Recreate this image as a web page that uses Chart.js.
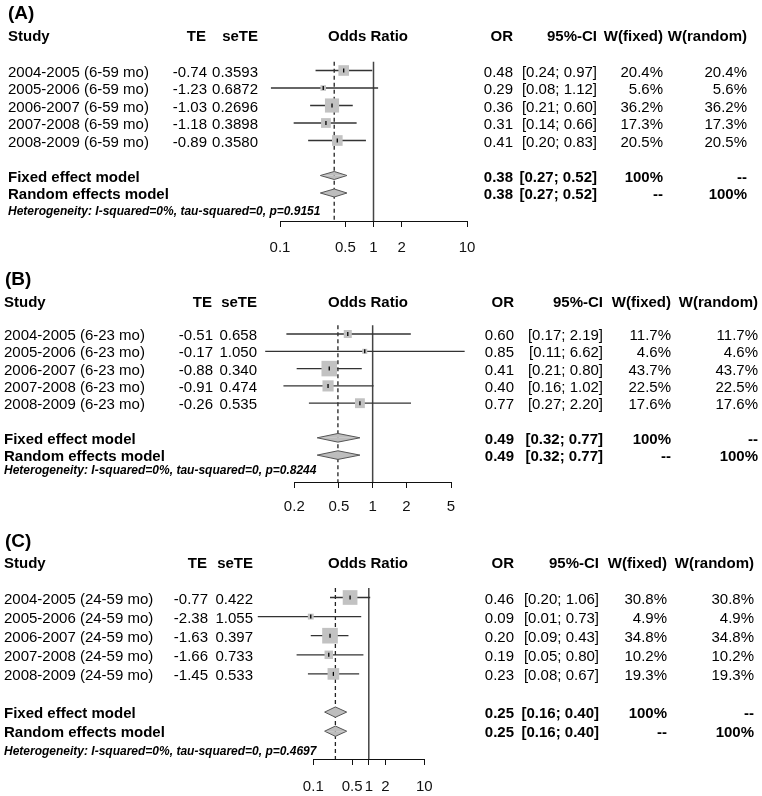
<!DOCTYPE html>
<html>
<head>
<meta charset="utf-8">
<script src="https://cdn.jsdelivr.net/npm/chart.js@4.4.0/dist/chart.umd.min.js"></script>
<style>
html,body{margin:0;padding:0;background:#fff;width:762px;height:796px;overflow:hidden;}
#page{position:relative;width:762px;height:796px;overflow:hidden;}
.t{position:absolute;white-space:nowrap;font-family:"Liberation Sans",Arial,Helvetica,sans-serif;font-size:15px;line-height:15px;color:#000;transform:translateY(-50%);}
.t.r{transform:translate(-100%,-50%);}
.t.c{transform:translate(-50%,-50%);}
.t.b{font-weight:bold;}
.t.het{font-size:12px;line-height:12px;font-weight:bold;font-style:italic;}
.t.lab{font-size:19px;line-height:19px;font-weight:bold;}
canvas{position:absolute;left:0;}
</style>
</head>
<body>
<div id="page"></div>
<script>
// ---------------- DATA ----------------
const headers = ["Study", "TE", "seTE", "Odds Ratio", "OR", "95%-CI", "W(fixed)", "W(random)"];
const modelNames = ["Fixed effect model", "Random effects model"];
const modelWFixed = ["100%", "--"];
const modelWRandom = ["--", "100%"];

// Panel A: 6-59 months
const studiesA = ["2004-2005 (6-59 mo)", "2005-2006 (6-59 mo)", "2006-2007 (6-59 mo)", "2007-2008 (6-59 mo)", "2008-2009 (6-59 mo)"];
const teA = [-0.74, -1.23, -1.03, -1.18, -0.89];
const seTeA = [0.3593, 0.6872, 0.2696, 0.3898, 0.3580];
const orA = [0.48, 0.29, 0.36, 0.31, 0.41];
const ciLowA = [0.24, 0.08, 0.21, 0.14, 0.20];
const ciHighA = [0.97, 1.12, 0.60, 0.66, 0.83];
const wFixedA = [20.4, 5.6, 36.2, 17.3, 20.5];
const wRandomA = [20.4, 5.6, 36.2, 17.3, 20.5];
const modelOrA = [0.38, 0.38];
const modelLowA = [0.27, 0.27];
const modelHighA = [0.52, 0.52];
const hetA = "Heterogeneity: I-squared=0%, tau-squared=0, p=0.9151";
const ticksA = [0.1, 0.5, 1, 2, 10];
const tickLabelsA = ["0.1", "0.5", "1", "2", "10"];

// Panel B: 6-23 months
const studiesB = ["2004-2005 (6-23 mo)", "2005-2006 (6-23 mo)", "2006-2007 (6-23 mo)", "2007-2008 (6-23 mo)", "2008-2009 (6-23 mo)"];
const teB = [-0.51, -0.17, -0.88, -0.91, -0.26];
const seTeB = [0.658, 1.050, 0.340, 0.474, 0.535];
const orB = [0.60, 0.85, 0.41, 0.40, 0.77];
const ciLowB = [0.17, 0.11, 0.21, 0.16, 0.27];
const ciHighB = [2.19, 6.62, 0.80, 1.02, 2.20];
const wFixedB = [11.7, 4.6, 43.7, 22.5, 17.6];
const wRandomB = [11.7, 4.6, 43.7, 22.5, 17.6];
const modelOrB = [0.49, 0.49];
const modelLowB = [0.32, 0.32];
const modelHighB = [0.77, 0.77];
const hetB = "Heterogeneity: I-squared=0%, tau-squared=0, p=0.8244";
const ticksB = [0.2, 0.5, 1, 2, 5];
const tickLabelsB = ["0.2", "0.5", "1", "2", "5"];

// Panel C: 24-59 months
const studiesC = ["2004-2005 (24-59 mo)", "2005-2006 (24-59 mo)", "2006-2007 (24-59 mo)", "2007-2008 (24-59 mo)", "2008-2009 (24-59 mo)"];
const teC = [-0.77, -2.38, -1.63, -1.66, -1.45];
const seTeC = [0.422, 1.055, 0.397, 0.733, 0.533];
const orC = [0.46, 0.09, 0.20, 0.19, 0.23];
const ciLowC = [0.20, 0.01, 0.09, 0.05, 0.08];
const ciHighC = [1.06, 0.73, 0.43, 0.80, 0.67];
const wFixedC = [30.8, 4.9, 34.8, 10.2, 19.3];
const wRandomC = [30.8, 4.9, 34.8, 10.2, 19.3];
const modelOrC = [0.25, 0.25];
const modelLowC = [0.16, 0.16];
const modelHighC = [0.40, 0.40];
const hetC = "Heterogeneity: I-squared=0%, tau-squared=0, p=0.4697";
const ticksC = [0.1, 0.5, 1, 2, 10];
const tickLabelsC = ["0.1", "0.5", "1", "2", "10"];

// ---------------- LAYOUT (positions / styles) ----------------
const FONTF = '"Liberation Sans", Arial, Helvetica, sans-serif';
const W = 762;
const layoutA = {top:0, letterX:8, letterY:12, headY:35, textX:8, r1:70.5, sp:17.5, hetY:211, axisY:221,
  px0:280, px1:467, tickPad:12, colTE:207, colSe:258, colOR:513, colCI:597, colWf:663, colWr:747,
  orHeadX:368, sqK:2.35, dh:0.23, seDigits:4};
const layoutB = {top:262, letterX:5, letterY:278, headY:301, textX:4, r1:334, sp:17.3, hetY:470, axisY:482,
  px0:294.3, px1:451, tickPad:10, colTE:213, colSe:257, colOR:514, colCI:603, colWf:671, colWr:758,
  orHeadX:368, sqK:2.35, dh:0.25, seDigits:3};
const layoutC = {top:527, letterX:5, letterY:540, headY:562, textX:4, r1:597.5, sp:19.1, hetY:751, axisY:759,
  px0:313.3, px1:424.3, tickPad:13, colTE:208, colSe:253, colOR:514, colCI:599, colWf:667, colWr:754,
  orHeadX:368, sqK:2.65, dh:0.27, seDigits:3};

const panels = [
  {letter:"(A)", studies:studiesA, te:teA, se:seTeA, or:orA, lo:ciLowA, hi:ciHighA, wf:wFixedA, wr:wRandomA,
   mOr:modelOrA, mLo:modelLowA, mHi:modelHighA, het:hetA, ticks:ticksA, tickLabels:tickLabelsA, L:layoutA},
  {letter:"(B)", studies:studiesB, te:teB, se:seTeB, or:orB, lo:ciLowB, hi:ciHighB, wf:wFixedB, wr:wRandomB,
   mOr:modelOrB, mLo:modelLowB, mHi:modelHighB, het:hetB, ticks:ticksB, tickLabels:tickLabelsB, L:layoutB},
  {letter:"(C)", studies:studiesC, te:teC, se:seTeC, or:orC, lo:ciLowC, hi:ciHighC, wf:wFixedC, wr:wRandomC,
   mOr:modelOrC, mLo:modelLowC, mHi:modelHighC, het:hetC, ticks:ticksC, tickLabels:tickLabelsC, L:layoutC}
];

const page = document.getElementById('page');
function txt(x, y, s, cls) {
  const el = document.createElement('div');
  el.className = 't ' + (cls || '');
  el.textContent = s;
  el.style.left = x + 'px';
  el.style.top = y + 'px';
  page.appendChild(el);
}
function rowY(L, r) { return L.r1 + (r - 1) * L.sp; }
const f2 = v => v.toFixed(2);
const ciText = (a, b) => "[" + f2(a) + "; " + f2(b) + "]";
const wText = v => v.toFixed(1) + "%";

function buildPanel(P) {
  const L = P.L;
  const n = P.studies.length;
  const modelRows = [n + 2, n + 3];
  const yTop = rowY(L, 0.5);
  const rAxis = 1 + (L.axisY - L.r1) / L.sp;
  const tickLen = 6;
  const H = Math.round(L.axisY - L.top + tickLen + 15 * 1.2 + 2 * L.tickPad);

  const cv = document.createElement('canvas');
  cv.width = W; cv.height = H;
  cv.style.top = L.top + 'px';
  cv.style.width = W + 'px'; cv.style.height = H + 'px';
  page.appendChild(cv);

  const ds = [];
  // point-estimate marks (top-most)
  ds.push({data: P.or.map((v, i) => ({x: v, y: i + 1})), showLine:false, pointStyle:'line', pointRotation:90,
    pointRadius:2, pointBorderColor:'#000', pointBorderWidth:1.3, pointBackgroundColor:'#000', clip:false});
  // squares sized by fixed weights
  ds.push({data: P.or.map((v, i) => ({x: v, y: i + 1})), showLine:false, pointStyle:'rect',
    pointRadius: P.wf.map(w => L.sqK * Math.sqrt(w) / Math.SQRT2), pointBackgroundColor:'#c2c2c2',
    pointBorderWidth:0, clip:false});
  // diamonds for the pooled models
  modelRows.forEach((r, m) => {
    [-1, 1].forEach(sgn => {
      ds.push({data: [{x: P.mLo[m], y: r}, {x: P.mOr[m], y: r + sgn * L.dh}, {x: P.mHi[m], y: r}],
        showLine:true, tension:0, pointRadius:0, borderColor:'#555', borderWidth:1,
        backgroundColor:'#bdbdbd', fill:{value: r}, clip:false});
    });
  });
  // confidence-interval lines
  P.lo.forEach((lo, i) => {
    ds.push({data: [{x: lo, y: i + 1}, {x: P.hi[i], y: i + 1}], showLine:true, pointRadius:0,
      borderColor:'#333', borderWidth:1.3, fill:false, clip:false});
  });
  // dashed line at pooled estimate
  ds.push({data: [{x: P.mOr[0], y: 0.5}, {x: P.mOr[0], y: rAxis}], showLine:true, pointRadius:0,
    borderColor:'#222', borderWidth:1.3, borderDash:[4, 3], fill:false, clip:false});
  // solid line of no effect
  ds.push({data: [{x: 1, y: 0.5}, {x: 1, y: rAxis}], showLine:true, pointRadius:0,
    borderColor:'#444', borderWidth:1.5, fill:false, clip:false});

  new Chart(cv.getContext('2d'), {
    type: 'scatter',
    data: {datasets: ds},
    options: {
      responsive:false, animation:false, events:[], devicePixelRatio:1,
      layout:{padding:{left:L.px0, right:W - L.px1, top:yTop - L.top, bottom:0}},
      plugins:{legend:{display:false}, tooltip:{enabled:false}, title:{display:false}},
      scales:{
        x:{type:'logarithmic', position:'bottom', bounds:'data',
          min:P.ticks[0], max:P.ticks[P.ticks.length - 1],
          afterBuildTicks: s => { s.ticks = P.ticks.map(v => ({value: v})); },
          ticks:{autoSkip:false, maxRotation:0, minRotation:0, padding:L.tickPad, color:'#111',
            font:{family:FONTF, size:15}, callback:(v, i) => P.tickLabels[i]},
          grid:{display:true, drawOnChartArea:false, drawTicks:true, tickLength:tickLen, color:'#111', lineWidth:1},
          border:{display:true, color:'#111', width:1}},
        y:{type:'linear', display:false, reverse:true, min:0.5, max:rAxis}
      }
    }
  });

  // ---- text ----
  txt(L.letterX, L.letterY, P.letter, 'lab');
  txt(L.textX, L.headY, headers[0], 'b');
  txt(L.colTE - 1, L.headY, headers[1], 'b r');
  txt(L.colSe, L.headY, headers[2], 'b r');
  txt(L.orHeadX, L.headY, headers[3], 'b c');
  txt(L.colOR, L.headY, headers[4], 'b r');
  txt(L.colCI, L.headY, headers[5], 'b r');
  txt(L.colWf, L.headY, headers[6], 'b r');
  txt(L.colWr, L.headY, headers[7], 'b r');
  P.studies.forEach((s, i) => {
    const y = rowY(L, i + 1);
    txt(L.textX, y, s, '');
    txt(L.colTE, y, P.te[i].toFixed(2), 'r');
    txt(L.colSe, y, P.se[i].toFixed(L.seDigits), 'r');
    txt(L.colOR, y, f2(P.or[i]), 'r');
    txt(L.colCI, y, ciText(P.lo[i], P.hi[i]), 'r');
    txt(L.colWf, y, wText(P.wf[i]), 'r');
    txt(L.colWr, y, wText(P.wr[i]), 'r');
  });
  modelRows.forEach((r, m) => {
    const y = rowY(L, r);
    txt(L.textX, y, modelNames[m], 'b');
    txt(L.colOR, y, f2(P.mOr[m]), 'b r');
    txt(L.colCI, y, ciText(P.mLo[m], P.mHi[m]), 'b r');
    txt(L.colWf, y, modelWFixed[m], 'b r');
    txt(L.colWr, y, modelWRandom[m], 'b r');
  });
  txt(L.textX, L.hetY, P.het, 'het');
}

panels.forEach(buildPanel);
</script>
</body>
</html>
